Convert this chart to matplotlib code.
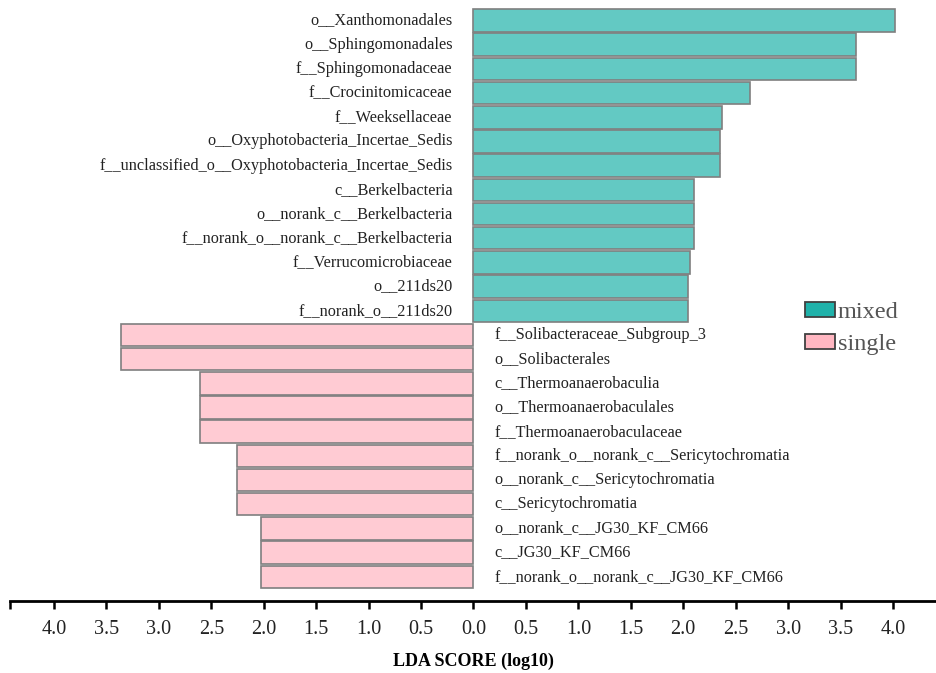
import matplotlib
matplotlib.use('Agg')
import matplotlib.pyplot as plt
import matplotlib.patches as patches

plt.rcParams['font.family'] = ['Liberation Serif', 'DejaVu Serif']

# LDA scores, top to bottom as drawn
mixed_taxa = [
    'o__Xanthomonadales', 'o__Sphingomonadales', 'f__Sphingomonadaceae',
    'f__Crocinitomicaceae', 'f__Weeksellaceae', 'o__Oxyphotobacteria_Incertae_Sedis',
    'f__unclassified_o__Oxyphotobacteria_Incertae_Sedis', 'c__Berkelbacteria',
    'o__norank_c__Berkelbacteria', 'f__norank_o__norank_c__Berkelbacteria',
    'f__Verrucomicrobiaceae', 'o__211ds20', 'f__norank_o__211ds20',
]
mixed_lda = [4.02, 3.65, 3.65, 2.64, 2.37, 2.35, 2.35, 2.10, 2.10, 2.10, 2.065, 2.05, 2.05]

single_taxa = [
    'f__Solibacteraceae_Subgroup_3', 'o__Solibacterales', 'c__Thermoanaerobaculia',
    'o__Thermoanaerobaculales', 'f__Thermoanaerobaculaceae',
    'f__norank_o__norank_c__Sericytochromatia', 'o__norank_c__Sericytochromatia',
    'c__Sericytochromatia', 'o__norank_c__JG30_KF_CM66', 'c__JG30_KF_CM66',
    'f__norank_o__norank_c__JG30_KF_CM66',
]
single_lda = [3.36, 3.36, 2.61, 2.61, 2.61, 2.26, 2.26, 2.26, 2.03, 2.03, 2.03]

tick_vals = [-4.0, -3.5, -3.0, -2.5, -2.0, -1.5, -1.0, -0.5, 0.0,
             0.5, 1.0, 1.5, 2.0, 2.5, 3.0, 3.5, 4.0]

groups = ['mixed', 'single']
group_colors = {'mixed': '#20B2AA', 'single': '#FFB6C1'}
bar_colors = {'mixed': '#63C9C3', 'single': '#FFCBD3'}

fig = plt.figure(figsize=(9.37, 6.73), dpi=100)
ax = fig.add_axes([10 / 937, 72.3 / 673, 927 / 937, 600.7 / 673])

n = len(mixed_taxa) + len(single_taxa)
XMAX = 4.42
text_off = 0.2
label_size = 11.7

# mixed bars (positive side), labels on the left of zero
for i, (name, val) in enumerate(zip(mixed_taxa, mixed_lda)):
    y = n - 1 - i
    ax.barh(y, val, height=0.93, color=bar_colors['mixed'],
            edgecolor='#7f7f7f', linewidth=1.2)
    ax.text(-text_off, y, name, ha='right', va='center', fontsize=label_size, color='#222222')

# single bars (negative side), labels on the right of zero
for j, (name, val) in enumerate(zip(single_taxa, single_lda)):
    y = n - 1 - len(mixed_taxa) - j
    ax.barh(y, -val, height=0.93, color=bar_colors['single'],
            edgecolor='#7f7f7f', linewidth=1.2)
    ax.text(text_off, y, name, ha='left', va='center', fontsize=label_size, color='#222222')

ax.set_xlim(-XMAX, XMAX)
ax.set_ylim(-0.99, n - 1 + 0.85)

ticks = [-XMAX] + tick_vals + [XMAX]
labels = [''] + ['%.1f' % abs(v) for v in tick_vals] + ['']
ax.set_xticks(ticks)
ax.set_xticklabels(labels, fontsize=14.5, color='#222222')
ax.tick_params(axis='x', direction='out', length=6, width=1.8, pad=8)
ax.set_yticks([])

for side in ['top', 'left', 'right']:
    ax.spines[side].set_visible(False)
ax.spines['bottom'].set_linewidth(2)

ax.set_xlabel('LDA SCORE (log10)', fontsize=13, fontweight='bold', labelpad=10)

handles = [patches.Patch(facecolor=group_colors[g], edgecolor='#404040',
                         linewidth=1.3, label=g) for g in groups]
leg = ax.legend(handles=handles, loc='upper left', frameon=False, fontsize=17.5,
                bbox_to_anchor=(805 / 937, 1 - 302 / 673), bbox_transform=fig.transFigure,
                handlelength=1.25, handleheight=0.55, handletextpad=0.1,
                labelspacing=0.45, borderpad=0, borderaxespad=0)
for t in leg.get_texts():
    t.set_color('#555555')

fig.savefig('out.png', dpi=100)
